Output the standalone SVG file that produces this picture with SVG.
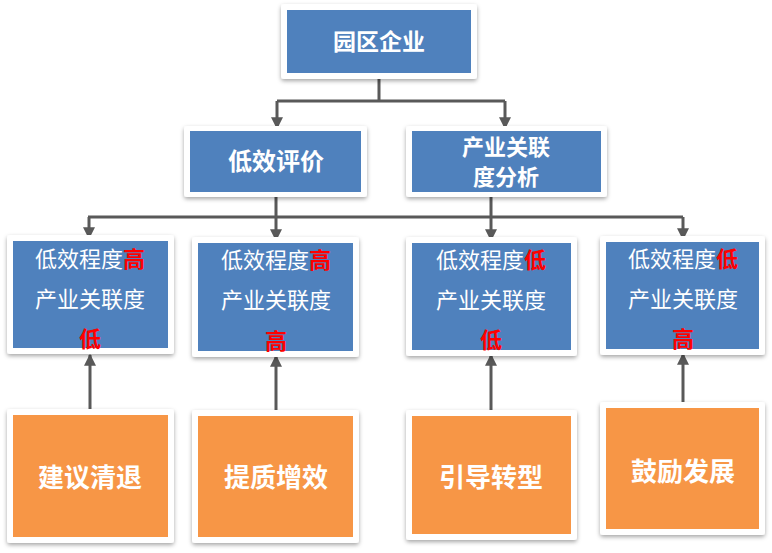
<svg xmlns="http://www.w3.org/2000/svg" width="772" height="553" viewBox="0 0 772 553">
<defs>
<filter id="sh" x="-10%" y="-10%" width="120%" height="130%">
<feDropShadow dx="0" dy="2" stdDeviation="2" flood-color="#000" flood-opacity="0.35"/>
</filter>
<marker id="ar" viewBox="0 0 10 10" refX="9" refY="5" markerWidth="4" markerHeight="4" orient="auto" markerUnits="strokeWidth">
<path d="M0,0 L10,5 L0,10 z" fill="#595959"/>
</marker>
<style>
.fr{fill:#fff;filter:url(#sh)}
.bl{fill:#4F81BD}
.or{fill:#F79646}
.t{font-family:"Noto Sans CJK SC","Microsoft YaHei",sans-serif;fill:#fff;text-anchor:middle}
.b{font-weight:bold}
.r{fill:#FF0000;font-weight:bold}
.c{stroke:#595959;stroke-width:3;fill:none}
.ca{stroke:#595959;stroke-width:3;fill:none;marker-end:url(#ar)}
</style>
</defs>
<rect width="772" height="553" fill="#fff"/>
<g id="connectors">
<path class="c" d="M379,79 V101 M277,101 H505"/>
<path class="ca" d="M277,101 V128"/>
<path class="ca" d="M505,101 V128"/>
<path class="c" d="M276,197 V217 M491,197 V217 M88,217 H683"/>
<path class="ca" d="M89,217 V238"/>
<path class="ca" d="M276,217 V240"/>
<path class="ca" d="M491,217 V240"/>
<path class="ca" d="M683,217 V239"/>
<path class="ca" d="M90,412 V355"/>
<path class="ca" d="M276,412 V356"/>
<path class="ca" d="M491,412 V355"/>
<path class="ca" d="M683,405 V354"/>
</g>
<g id="n-yuanqu">
<rect class="fr" x="281" y="4" width="196" height="75" rx="3"/>
<rect class="bl" x="287" y="10" width="184" height="63"/>
<text class="t b" x="379" y="50" font-size="23">园区企业</text>
</g>
<g id="n-dixiao">
<rect class="fr" x="184" y="126" width="183" height="71" rx="3"/>
<rect class="bl" x="190" y="131" width="171" height="61"/>
<text class="t b" x="276" y="170" font-size="24">低效评价</text>
</g>
<g id="n-chanye">
<rect class="fr" x="406" y="126" width="201" height="71" rx="3"/>
<rect class="bl" x="412" y="131" width="189" height="61"/>
<text class="t b" x="506" y="155" font-size="22">产业关联</text>
<text class="t b" x="506" y="185" font-size="22">度分析</text>
</g>
<g id="n-a">
<rect class="fr" x="7" y="235" width="167" height="119" rx="3"/>
<rect class="bl" x="13" y="241" width="155" height="107"/>
<text class="t" x="90" y="267" font-size="22">低效程度<tspan class="r">高</tspan></text>
<text class="t" x="90" y="307" font-size="22">产业关联度</text>
<text class="t r" x="90" y="347" font-size="22">低</text>
</g>
<g id="n-b">
<rect class="fr" x="192" y="237" width="167" height="120" rx="3"/>
<rect class="bl" x="198" y="243" width="155" height="108"/>
<text class="t" x="276" y="268" font-size="22">低效程度<tspan class="r">高</tspan></text>
<text class="t" x="276" y="308" font-size="22">产业关联度</text>
<text class="t r" x="276" y="349" font-size="22">高</text>
</g>
<g id="n-c">
<rect class="fr" x="406" y="237" width="171" height="119" rx="3"/>
<rect class="bl" x="412" y="243" width="159" height="107"/>
<text class="t" x="491" y="268" font-size="22">低效程度<tspan class="r">低</tspan></text>
<text class="t" x="491" y="308" font-size="22">产业关联度</text>
<text class="t r" x="491" y="348" font-size="22">低</text>
</g>
<g id="n-d">
<rect class="fr" x="600" y="236" width="165" height="119" rx="3"/>
<rect class="bl" x="606" y="242" width="153" height="107"/>
<text class="t" x="683" y="267" font-size="22">低效程度<tspan class="r">低</tspan></text>
<text class="t" x="683" y="307" font-size="22">产业关联度</text>
<text class="t r" x="683" y="347" font-size="22">高</text>
</g>
<g id="n-jianyi">
<rect class="fr" x="7" y="409" width="167" height="134" rx="3"/>
<rect class="or" x="13" y="415" width="155" height="122"/>
<text class="t b" x="90" y="487" font-size="26">建议清退</text>
</g>
<g id="n-tizhi">
<rect class="fr" x="192" y="410" width="167" height="133" rx="3"/>
<rect class="or" x="198" y="416" width="155" height="121"/>
<text class="t b" x="276" y="487" font-size="26">提质增效</text>
</g>
<g id="n-yindao">
<rect class="fr" x="406" y="410" width="171" height="130" rx="3"/>
<rect class="or" x="412" y="416" width="159" height="118"/>
<text class="t b" x="491" y="487" font-size="26">引导转型</text>
</g>
<g id="n-guli">
<rect class="fr" x="600" y="402" width="165" height="133" rx="3"/>
<rect class="or" x="606" y="408" width="153" height="121"/>
<text class="t b" x="683" y="481" font-size="26">鼓励发展</text>
</g>
</svg>
